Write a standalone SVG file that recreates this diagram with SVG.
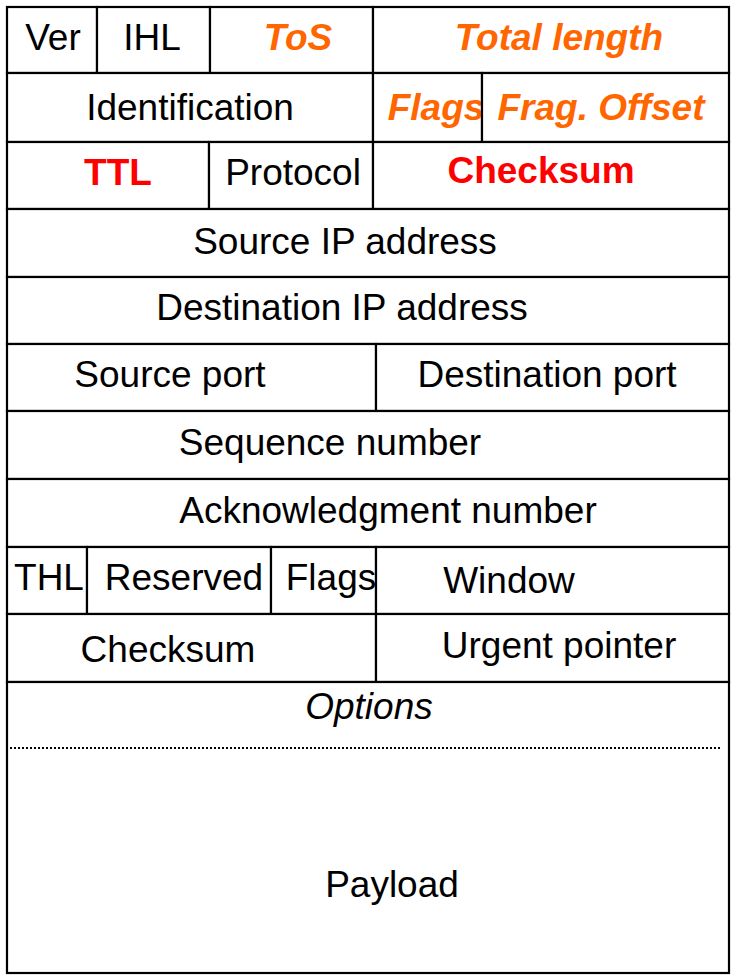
<svg xmlns="http://www.w3.org/2000/svg" width="731" height="976" viewBox="0 0 731 976">
<style>
.c{fill:#fff;stroke:#000;stroke-width:2.2}
.t{font-family:"Liberation Sans",Arial,sans-serif;font-size:37px;fill:#000;text-anchor:middle}
.o{fill:#FF6600;font-weight:bold;font-style:italic}
.r{fill:#FF0000;font-weight:bold}
.i{font-style:italic}
.d{stroke:#000;stroke-width:2;stroke-dasharray:2 2;fill:none}
</style>
<rect width="731" height="976" fill="#fff"/>
<g id="ver"><rect class="c" x="7" y="7" width="90" height="66"/><text class="t" x="53" y="50">Ver</text></g>
<g id="ihl"><rect class="c" x="97" y="7" width="113" height="66"/><text class="t" x="152" y="50">IHL</text></g>
<g id="tos"><rect class="c" x="210" y="7" width="163" height="66"/><text class="t o" x="298" y="50">ToS</text></g>
<g id="total-length"><rect class="c" x="373" y="7" width="356" height="66"/><text class="t o" x="559" y="50">Total length</text></g>
<g id="identification"><rect class="c" x="7" y="73" width="366" height="69"/><text class="t" x="190" y="120">Identification</text></g>
<g id="ip-flags"><rect class="c" x="373" y="73" width="109" height="69"/><text class="t o" x="436" y="120">Flags</text></g>
<g id="frag-offset"><rect class="c" x="482" y="73" width="247" height="69"/><text class="t o" x="601" y="120">Frag. Offset</text></g>
<g id="ttl"><rect class="c" x="7" y="142" width="202" height="67"/><text class="t r" x="118" y="185">TTL</text></g>
<g id="protocol"><rect class="c" x="209" y="142" width="164" height="67"/><text class="t" x="293" y="185">Protocol</text></g>
<g id="ip-checksum"><rect class="c" x="373" y="142" width="356" height="67"/><text class="t r" x="541" y="183">Checksum</text></g>
<g id="src-ip"><rect class="c" x="7" y="209" width="722" height="68"/><text class="t" x="345" y="254">Source IP address</text></g>
<g id="dst-ip"><rect class="c" x="7" y="277" width="722" height="67"/><text class="t" x="342" y="320">Destination IP address</text></g>
<g id="src-port"><rect class="c" x="7" y="344" width="369" height="67"/><text class="t" x="170" y="387">Source port</text></g>
<g id="dst-port"><rect class="c" x="376" y="344" width="353" height="67"/><text class="t" x="547" y="387">Destination port</text></g>
<g id="seq"><rect class="c" x="7" y="411" width="722" height="68"/><text class="t" x="330" y="455">Sequence number</text></g>
<g id="ack"><rect class="c" x="7" y="479" width="722" height="68"/><text class="t" x="388" y="523">Acknowledgment number</text></g>
<g id="thl"><rect class="c" x="7" y="547" width="80" height="67"/><text class="t" x="49" y="590">THL</text></g>
<g id="reserved"><rect class="c" x="87" y="547" width="184" height="67"/><text class="t" x="184" y="590">Reserved</text></g>
<g id="tcp-flags"><rect class="c" x="271" y="547" width="105" height="67"/><text class="t" x="331" y="590">Flags</text></g>
<g id="window"><rect class="c" x="376" y="547" width="353" height="67"/><text class="t" x="509" y="593">Window</text></g>
<g id="tcp-checksum"><rect class="c" x="7" y="614" width="369" height="68"/><text class="t" x="168" y="662">Checksum</text></g>
<g id="urgent"><rect class="c" x="376" y="614" width="353" height="68"/><text class="t" x="559" y="658">Urgent pointer</text></g>
<g id="options-payload"><rect class="c" x="7" y="682" width="722" height="291"/><text class="t i" x="369" y="719">Options</text><text class="t" x="392" y="897">Payload</text></g>
<g id="connectors"><line class="d" x1="10" y1="748" x2="722" y2="748"/></g>
</svg>
